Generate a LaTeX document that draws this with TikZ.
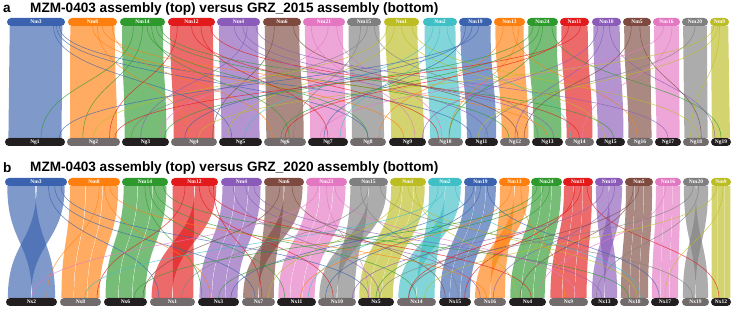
\documentclass[tikz,border=0pt]{standalone}
\usepackage{fontspec}
\setmainfont{Liberation Serif}
\newfontfamily\titlefont{Liberation Sans}
\usepackage{tikz}
\usetikzlibrary{calc,positioning}

% chromosome colours (top assembly)
\definecolor{c1}{HTML}{3A62AE}
\definecolor{c2}{HTML}{FF7F0E}
\definecolor{c3}{HTML}{2E9A2E}
\definecolor{c4}{HTML}{E31A1C}
\definecolor{c5}{HTML}{8A5BB8}
\definecolor{c6}{HTML}{7E4A40}
\definecolor{c7}{HTML}{E377C2}
\definecolor{c8}{HTML}{7F7F7F}
\definecolor{c9}{HTML}{BCBD22}
\definecolor{c10}{HTML}{3FC0C6}
\colorlet{c11}{c1}
\colorlet{c12}{c2}
\colorlet{c13}{c3}
\colorlet{c14}{c4}
\colorlet{c15}{c5}
\colorlet{c16}{c6}
\colorlet{c17}{c7}
\colorlet{c18}{c8}
\colorlet{c19}{c9}
\definecolor{pdark}{HTML}{231F20}
\definecolor{pgray}{HTML}{716B6C}

% band between two chromosomes
\newcommand{\ribbon}[7]{%
  \coordinate (r1) at ($(#1.south west)!#2!(#1.south east)$);
  \coordinate (r2) at ($(#1.south west)!#3!(#1.south east)$);
  \coordinate (r3) at ($(#4.north west)!#5!(#4.north east)$);
  \coordinate (r4) at ($(#4.north west)!#6!(#4.north east)$);
  \coordinate (rm) at ($(r1)!.5!(r3)$);
  \fill[#7, fill opacity=.65] (r1) .. controls (r1 |- rm) and (r3 |- rm) .. (r3) -- (r4) .. controls (r4 |- rm) and (r2 |- rm) .. (r2) -- cycle;}

% thin synteny line
\newcommand{\synline}[5]{%
  \coordinate (l1) at ($(#1.south west)!#2!(#1.south east)$);
  \coordinate (l2) at ($(#3.north west)!#4!(#3.north east)$);
  \coordinate (lm) at ($(l1)!.5!(l2)$);
  \draw[#5, line width=.6pt, draw opacity=.7] (l1) .. controls (l1 |- lm) and (l2 |- lm) .. (l2);}

\begin{document}
\begin{tikzpicture}[x=1pt, y=-1pt, title/.style={anchor=west, inner sep=0pt, font=\titlefont\bfseries\fontsize{13.6}{15}\selectfont}]
		\tikzset{pill/.style={rectangle, rounded corners=4pt, inner sep=0pt, minimum height=8pt, text=white, font=\fontsize{5.5}{6}\selectfont\bfseries}}

		\useasboundingbox (0,0) rectangle (732,320);

		% Titles
		\node[title] (laba) at (3,9) {a};
		\node[title] (titlea) at (30,9) {MZM-0403 assembly (top) versus GRZ\_2015 assembly (bottom)};
		\node[title] (labb) at (3,168) {b};
		\node[title] (titleb) at (30,168) {MZM-0403 assembly (top) versus GRZ\_2020 assembly (bottom)};

		% Panel a chromosomes
		\foreach \i/\lab/\xl/\xr in {1/Nm3/7/65, 2/Nm8/68/117, 3/Nm14/120/165, 4/Nm12/168/215, 5/Nm4/217/260, 6/Nm6/263/301, 7/Nm21/303/345, 8/Nm15/347/381, 9/Nm1/384/419, 10/Nm2/423/457, 11/Nm19/459/492, 12/Nm13/494/525, 13/Nm24/527/558, 14/Nm11/560/589, 15/Nm10/592/621, 16/Nm5/623/651, 17/Nm16/653/680, 18/Nm20/682/708, 19/Nm9/710/729}
			\node[pill, fill=c\i, minimum width={\xr-\xl}] (ta\i) at ({(\xl+\xr)/2},22) {\lab};

		\foreach \i/\lab/\xl/\xr/\f in {1/Ng1/5/65/pdark, 2/Ng2/67/120/pgray, 3/Ng3/122/169/pdark, 4/Ng4/171/217/pgray, 5/Ng5/219/262/pdark, 6/Ng6/264/306/pgray, 7/Ng7/308/348/pdark, 8/Ng8/350/386/pgray, 9/Ng9/389/426/pdark, 10/Ng10/428/463/pgray, 11/Ng11/465/498/pdark, 12/Ng12/500/530/pgray, 13/Ng13/532/563/pdark, 14/Ng14/565/594/pgray, 15/Ng15/596/625/pdark, 16/Ng16/627/653/pgray, 17/Ng17/655/681/pdark, 18/Ng18/683/709/pgray, 19/Ng19/711/731/pdark}
			\node[pill, fill=\f, minimum width={\xr-\xl}] (ba\i) at ({(\xl+\xr)/2},142) {\lab};

		% Panel b chromosomes
		\foreach \i/\lab/\xl/\xr in {1/Nm3/5/67, 2/Nm8/68/120, 3/Nm14/122/168, 4/Nm12/171/218, 5/Nm4/221/262, 6/Nm6/264/304, 7/Nm21/306/347, 8/Nm15/349/388, 9/Nm1/390/426, 10/Nm2/428/462, 11/Nm19/464/497, 12/Nm13/499/530, 13/Nm24/531/562, 14/Nm11/563/593, 15/Nm10/595/623, 16/Nm5/625/653, 17/Nm16/655/681, 18/Nm20/683/709, 19/Nm9/711/731}
			\node[pill, fill=c\i, minimum width={\xr-\xl}] (tb\i) at ({(\xl+\xr)/2},182) {\lab};

		\foreach \i/\lab/\xl/\xr/\f in {1/Nx2/6/57/pdark, 2/Nx8/60/101/pgray, 3/Nx6/104/147/pdark, 4/Nx1/150/195/pgray, 5/Nx3/198/239/pdark, 6/Nx7/242/275/pgray, 7/Nx11/277/316/pdark, 8/Nx10/318/356/pgray, 9/Nx5/358/394/pdark, 10/Nx14/397/436/pgray, 11/Nx15/439/471/pdark, 12/Nx16/474/506/pgray, 13/Nx4/509/546/pdark, 14/Nx9/549/588/pgray, 15/Nx13/591/618/pdark, 16/Nx18/620/649/pgray, 17/Nx17/651/679/pdark, 18/Nx19/682/709/pgray, 19/Nx12/711/731/pdark}
			\node[pill, fill=\f, minimum width={\xr-\xl}] (bb\i) at ({(\xl+\xr)/2},302) {\lab};

		% Panel a bands
		\foreach \i in {1,...,19}
			\ribbon{ta\i}{.05}{.95}{ba\i}{.06}{.94}{c\i};

		% Panel a links
		\foreach \t/\f/\b/\g in {1/.8/5/.3, 1/.9/11/.2, 1/.85/8/.5, 2/.5/9/.4, 2/.7/13/.5, 2/.9/6/.2, 2/.6/4/.4, 3/.3/1/.6, 3/.6/8/.5, 3/.8/12/.3, 3/.9/15/.6, 3/.7/6/.6, 3/.5/2/.3, 4/.2/2/.8, 4/.5/10/.3, 4/.9/14/.5, 4/.7/7/.5, 5/.4/11/.7, 5/.7/3/.4, 5/.9/17/.5, 5/.6/13/.7, 6/.3/4/.9, 6/.8/12/.6, 7/.2/9/.7, 7/.6/3/.8, 7/.8/10/.4, 8/.4/6/.7, 8/.8/13/.2, 8/.6/3/.2, 9/.1/2/.5, 9/.5/15/.3, 9/.8/18/.6, 9/.3/5/.2, 10/.3/5/.6, 10/.7/14/.2, 10/.5/7/.8, 11/.2/7/.4, 11/.6/1/.9, 11/.4/4/.3, 12/.3/8/.8, 12/.6/16/.4, 12/.8/10/.6, 13/.2/3/.9, 13/.5/10/.6, 13/.8/19/.5, 13/.4/6/.4, 14/.3/6/.5, 14/.7/2/.9, 15/.2/9/.9, 15/.6/19/.2, 15/.4/12/.5, 16/.3/12/.8, 16/.6/18/.7, 17/.4/7/.3, 17/.7/14/.6, 18/.5/11/.6, 19/.2/4/.6, 19/.5/18/.3, 19/.4/11/.4}
			\synline{ta\t}{\f}{ba\b}{\g}{c\t};

		% Panel b bands (x = inverted halves)
		\foreach \i/\p in {1/x, 2/s, 3/s, 4/x, 5/s, 6/x, 7/s, 8/x, 9/s, 10/x, 11/s, 12/x, 13/s, 14/s, 15/x, 16/s, 17/s, 18/x, 19/s}{
			\if\p x
				\ribbon{tb\i}{.04}{.49}{bb\i}{.51}{.96}{c\i};
				\ribbon{tb\i}{.51}{.96}{bb\i}{.04}{.49}{c\i};
			\else
				\ribbon{tb\i}{.04}{.335}{bb\i}{.04}{.335}{c\i};
				\ribbon{tb\i}{.345}{.655}{bb\i}{.345}{.655}{c\i};
				\ribbon{tb\i}{.665}{.96}{bb\i}{.665}{.96}{c\i};
			\fi
		}

		% Panel b links
		\foreach \t/\f/\b/\g in {1/.7/4/.2, 1/.9/9/.3, 1/.8/6/.4, 2/.6/1/.8, 2/.8/12/.4, 2/.7/5/.3, 3/.5/5/.1, 3/.7/10/.5, 3/.9/16/.3, 3/.6/7/.2, 4/.3/2/.9, 4/.6/8/.4, 4/.8/13/.6, 4/.9/6/.6, 5/.3/9/.6, 5/.8/15/.4, 5/.6/12/.2, 6/.4/3/.9, 6/.7/11/.2, 7/.3/1/.5, 7/.7/14/.7, 7/.5/9/.3, 8/.5/4/.7, 8/.8/18/.4, 8/.3/11/.6, 9/.3/6/.8, 9/.7/13/.2, 9/.5/16/.6, 10/.5/2/.6, 10/.8/16/.7, 10/.3/7/.8, 11/.3/5/.8, 11/.7/17/.3, 11/.5/8/.2, 12/.4/7/.6, 12/.7/14/.4, 13/.2/3/.7, 13/.6/9/.5, 13/.4/5/.5, 14/.4/11/.8, 14/.8/19/.4, 14/.6/10/.3, 15/.3/8/.9, 15/.7/12/.6, 16/.5/10/.3, 16/.3/13/.3, 17/.4/13/.8, 18/.6/15/.2, 18/.4/9/.6, 19/.3/10/.7, 19/.6/17/.5}
			\synline{tb\t}{\f}{bb\b}{\g}{c\t};

	\end{tikzpicture}
\end{document}
